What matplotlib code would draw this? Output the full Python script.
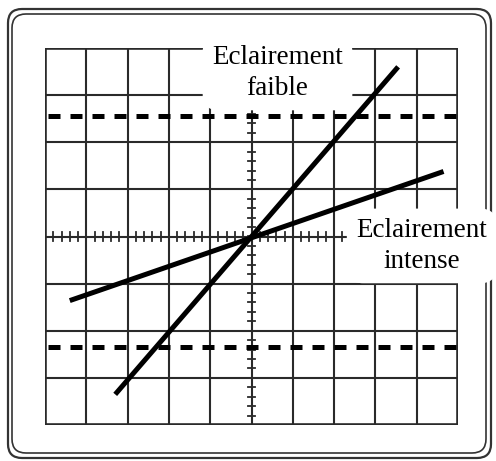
import matplotlib
matplotlib.use("Agg")
import matplotlib.pyplot as plt
import numpy as np
from matplotlib.patches import FancyBboxPatch

# ---- data (in screen divisions) ----
grid_x = [-5, -4, -3, -2, -1, 0, 1, 2, 3, 4, 5]
grid_y = [-4, -3, -2, -1, 0, 1, 2, 3, 4]
faible_x = [-3.3, 3.55]
faible_y = [-3.35, 3.6]
intense_x = [-4.4, 4.65]
intense_y = [-1.36, 1.38]
seuils_y = [2.55, -2.35]
label_faible = "Eclairement\nfaible"
label_intense = "Eclairement\nintense"
label_faible_pos = (0.63, 3.47)
label_intense_pos = (4.12, -0.2)

W, H = 496, 461
fig = plt.figure(figsize=(W / 100, H / 100), dpi=100)
fig.patch.set_facecolor("white")

# background overlay for the outer oscilloscope frame (pixel coords)
bg = fig.add_axes([0, 0, 1, 1])
bg.set_xlim(0, W)
bg.set_ylim(H, 0)
bg.axis("off")
for (x0, y0, x1, y1, lw) in [(8, 9, 491, 458, 1.6), (12, 14, 486, 453, 1.2)]:
    bg.add_patch(FancyBboxPatch((x0 + 14, y0 + 14), (x1 - x0) - 28, (y1 - y0) - 28,
                                boxstyle="round,pad=14", fill=False,
                                edgecolor="#333333", linewidth=lw))

# graticule axes
left, right, top, bottom = 45, 458, 48, 425
ax = fig.add_axes([left / W, 1 - bottom / H, (right - left) / W, (bottom - top) / H])
ax.set_xlim(-5, 5)
ax.set_ylim(-4, 4)
ax.axis("off")

gcol = "#2a2a2a"
for gx in grid_x:
    lw = 2.6 if abs(gx) == 5 else 1.5
    ax.axvline(gx, color=gcol, lw=lw, zorder=1)
for gy in grid_y:
    lw = 2.6 if abs(gy) == 4 else 1.5
    ax.axhline(gy, color=gcol, lw=lw, zorder=1)

# small ticks on the central axes
for t in np.arange(-5, 5.01, 0.2):
    ax.plot([t, t], [-0.1, 0.1], color=gcol, lw=1.3, zorder=1)
for t in np.arange(-4, 4.01, 0.2):
    ax.plot([-0.09, 0.09], [t, t], color=gcol, lw=1.3, zorder=1)

# dashed threshold lines
for sy in seuils_y:
    ax.plot([-4.93, 5], [sy, sy], color="black", lw=3.6, dashes=(2.4, 2.0),
            solid_capstyle="butt", dash_capstyle="butt", zorder=3)

# characteristic lines
ax.plot(faible_x, faible_y, color="black", lw=3.6, solid_capstyle="butt", zorder=4)
ax.plot(intense_x, intense_y, color="black", lw=3.6, solid_capstyle="butt", zorder=4)

box = dict(boxstyle="round,pad=0.35,rounding_size=0.6", facecolor="white", edgecolor="none")
ax.text(*label_faible_pos, label_faible, ha="center", va="center",
        fontsize=19.5, family="Liberation Serif", linespacing=1.3,
        bbox=box, zorder=5, clip_on=False)
ax.text(*label_intense_pos, label_intense, ha="center", va="center",
        fontsize=19.5, family="Liberation Serif", linespacing=1.3,
        bbox=box, zorder=5, clip_on=False)

fig.savefig("out.png", dpi=100, facecolor="white")
